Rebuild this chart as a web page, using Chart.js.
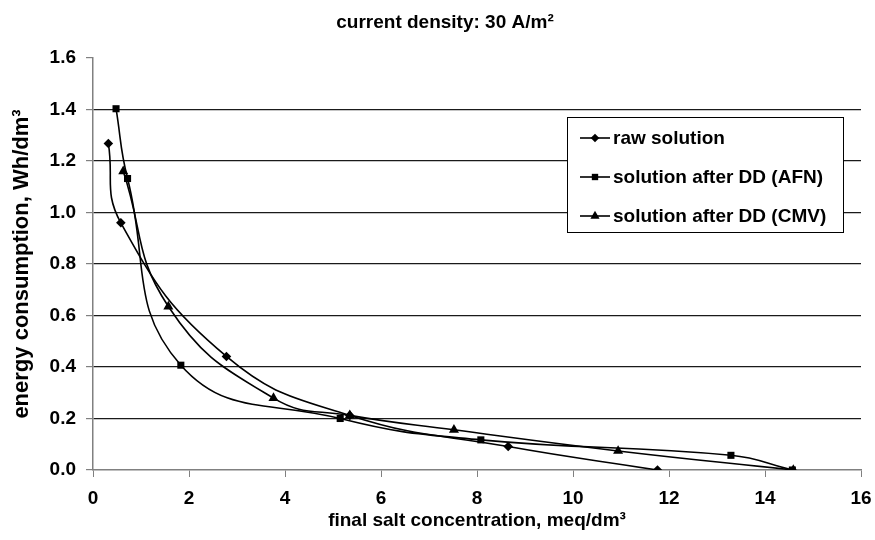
<!DOCTYPE html>
<html>
<head>
<meta charset="utf-8">
<script src="https://cdn.jsdelivr.net/npm/chart.js@4"></script>
<style>
    html, body { margin: 0; padding: 0; background: #fff; }
    #wrap { width: 875px; height: 540px; position: relative; }
</style>
</head>
<body>
<div id="wrap"><canvas id="chart"></canvas></div>
<script>
const chartTitle = 'current density: 30 A/m²';
const xTitle = 'final salt concentration, meq/dm³';
const yTitle = 'energy consumption, Wh/dm³';

const seriesNames = ['raw solution', 'solution after DD (AFN)', 'solution after DD (CMV)'];

const rawX = [0.32, 0.58, 2.78, 5.35, 8.65, 11.76];
const rawY = [1.268, 0.96, 0.441, 0.212, 0.091, 0.0];

const afnX = [0.48, 0.72, 1.83, 5.15, 8.08, 13.29, 14.57];
const afnY = [1.403, 1.132, 0.407, 0.200, 0.117, 0.057, 0.0];

const cmvX = [0.63, 1.57, 3.76, 5.35, 7.52, 10.94, 14.59];
const cmvY = [1.160, 0.635, 0.279, 0.212, 0.156, 0.074, 0.0];

const FONT = "'Liberation Sans', Arial, sans-serif";

function toPoints(xs, ys) {
    return xs.map((x, i) => ({ x: x, y: ys[i] }));
}

function makeSet(label, xs, ys, style, radius) {
    return {
        label: label,
        data: toPoints(xs, ys),
        borderColor: '#000',
        backgroundColor: '#000',
        borderWidth: 1.6,
        pointStyle: style,
        pointRadius: radius,
        pointBorderWidth: 0,
        tension: 0.45,
        showLine: true,
    };
}

// title + boxed legend, drawn the way the old spreadsheet chart had them
const decorations = {
    id: 'decorations',
    afterDraw(chart) {
        const ctx = chart.ctx;
        ctx.save();
        ctx.fillStyle = '#000';
        ctx.font = `bold 19px ${FONT}`;
        ctx.textAlign = 'center';
        ctx.textBaseline = 'middle';
        ctx.fillText(chartTitle, 445, 23);

        const box = { x: 567, y: 117, w: 276, h: 115 };
        ctx.fillStyle = '#fff';
        ctx.fillRect(box.x, box.y, box.w, box.h);
        ctx.strokeStyle = '#000';
        ctx.lineWidth = 1;
        ctx.strokeRect(box.x + 0.5, box.y + 0.5, box.w, box.h);

        ctx.font = `bold 19px ${FONT}`;
        ctx.textAlign = 'left';
        chart.data.datasets.forEach((ds, i) => {
            const y = 138 + i * 39;
            ctx.strokeStyle = '#000';
            ctx.lineWidth = 1.6;
            ctx.beginPath();
            ctx.moveTo(580, y);
            ctx.lineTo(610, y);
            ctx.stroke();
            ctx.fillStyle = '#000';
            Chart.helpers.drawPoint(ctx, { pointStyle: ds.pointStyle, radius: ds.pointRadius - 0.5, borderWidth: 0 }, 595, y);
            ctx.fillText(ds.label, 613, y + 1);
        });
        ctx.restore();
    }
};

new Chart(document.getElementById('chart'), {
    type: 'scatter',
    data: {
        datasets: [
            makeSet(seriesNames[0], rawX, rawY, 'rectRot', 4.8),
            makeSet(seriesNames[1], afnX, afnY, 'rect', 5),
            makeSet(seriesNames[2], cmvX, cmvY, 'triangle', 5.8),
        ],
    },
    options: {
        responsive: true,
        maintainAspectRatio: false,
        animation: false,
        layout: { padding: { top: 58, right: 14, left: 0, bottom: 0 } },
        plugins: {
            legend: { display: false },
            title: { display: false },
            tooltip: { enabled: false },
        },
        scales: {
            x: {
                type: 'linear',
                min: 0,
                max: 16,
                afterFit: (s) => {
                    s.height = 70;
                    s.paddingLeft = 0;
                    s.paddingRight = 0;
                },
                ticks: {
                    stepSize: 2,
                    color: '#000',
                    padding: 10,
                    font: { family: FONT, size: 19, weight: 'bold' },
                },
                grid: {
                    drawOnChartArea: false,
                    drawTicks: true,
                    tickLength: 7,
                    tickColor: '#808080',
                },
                border: { color: '#808080', width: 1.5 },
                title: {
                    display: true,
                    text: xTitle,
                    color: '#000',
                    font: { family: FONT, size: 19, weight: 'bold' },
                    padding: { top: 0, bottom: 8 },
                },
            },
            y: {
                type: 'linear',
                min: 0,
                max: 1.6,
                afterFit: (s) => { s.width = 93; },
                ticks: {
                    stepSize: 0.2,
                    color: '#000',
                    padding: 10,
                    font: { family: FONT, size: 19, weight: 'bold' },
                    callback: (v) => v.toFixed(1),
                },
                grid: {
                    color: (c) => (c.tick && (c.tick.value === 0 || c.tick.value > 1.5)) ? 'rgba(0,0,0,0)' : '#1a1a1a',
                    lineWidth: 1.2,
                    tickLength: 7,
                    tickColor: '#808080',
                },
                border: { color: '#808080', width: 1.5 },
                title: {
                    display: true,
                    text: yTitle,
                    color: '#000',
                    font: { family: FONT, size: 22, weight: 'bold' },
                    padding: { top: 9, bottom: 0 },
                },
            },
        },
    },
    plugins: [decorations],
});
</script>
</body>
</html>
